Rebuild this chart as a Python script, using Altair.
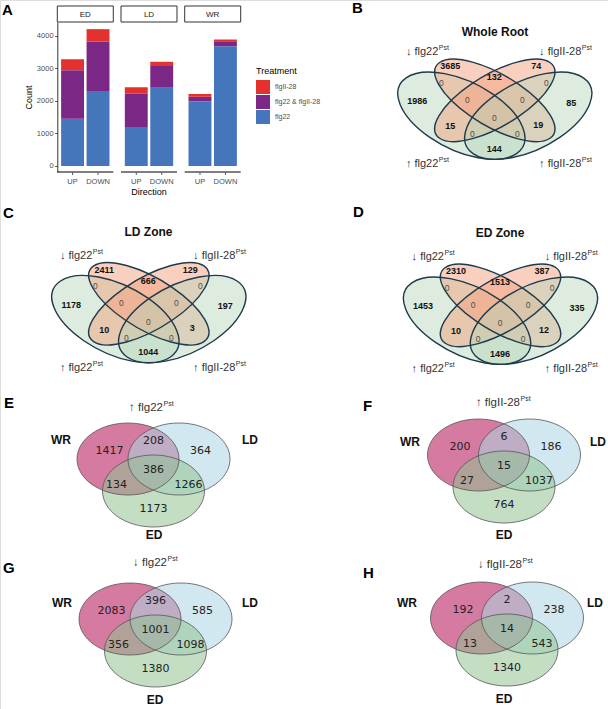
import math
import altair as alt
import pandas as pd

# ---------------- data: panel A (stacked bars) ----------------
zones = ["ED", "LD", "WR"]
directions = ["UP", "DOWN"]
bar_zone = ["ED", "ED", "LD", "LD", "WR", "WR"]
bar_direction = ["UP", "DOWN", "UP", "DOWN", "UP", "DOWN"]
count_flg22 = [1453, 2310, 1178, 2411, 1986, 3685]
count_both = [1496, 1513, 1044, 666, 144, 132]
count_flgII28 = [335, 387, 197, 129, 85, 74]
treatments = ["flgII-28", "flg22 & flgII-28", "flg22"]
treatment_colors = ["#E3312D", "#7B2786", "#4575BA"]
count_ticks = [0, 1000, 2000, 3000, 4000]

# ---------------- data: panels B-D (4-set Venn) ----------------
quad_titles = ["Whole Root", "LD Zone", "ED Zone"]
quad_sets = ["↑ flg22", "↓ flg22", "↓ flgII-28", "↑ flgII-28"]
whole_root = [3685, 132, 74, 0, 0, 1986, 0, 0, 85, 0, 15, 19, 0, 0, 144]
ld_zone = [2411, 666, 129, 0, 0, 1178, 0, 0, 197, 0, 10, 3, 0, 0, 1044]
ed_zone = [2310, 1513, 387, 0, 0, 1453, 0, 0, 335, 0, 10, 12, 0, 0, 1496]

# ---------------- data: panels E-H (3-set Venn) ----------------
tri_titles = ["↑ flg22", "↑ flgII-28", "↓ flg22", "↓ flgII-28"]
tri_sets = ["WR", "LD", "ED"]
up_flg22 = [1417, 208, 364, 386, 134, 1266, 1173]
up_flgII28 = [200, 6, 186, 15, 27, 1037, 764]
down_flg22 = [2083, 396, 585, 1001, 356, 1098, 1380]
down_flgII28 = [192, 2, 238, 14, 13, 543, 1340]

# ---------------- layout (positions / styles) ----------------
W, H = 608, 709
FONT = "Liberation Sans"
panel_letters = ["A", "B", "C", "D", "E", "F", "G", "H"]
letter_x = [2, 352, 3, 353, 4, 363, 3, 363]
letter_y = [15, 13, 218, 216.5, 408, 411, 573, 578]

# quad venn: centre of the middle "0" label of each panel
quad_c0x = [494.3, 148.3, 500.0]
quad_c0y = [118.3, 321.7, 323.3]
quad_title_x = [495, 148.5, 500]
quad_title_y = [32, 231.5, 233]
quad_num_dx = [-44, 0, 42, -53, 52, -77, -27, 28, 77, 0, -44, 44, -22, 23, 0]
quad_num_dy = [-52, -41, -52, -35.5, -35.5, -17, -18.5, -18.5, -15.5, 0, 8, 6.5, 16, 16, 30.5]
quad_set_dx = [-56, -56, 87, 87]
quad_set_dy = [46, -66, -66, 46]
# VennDiagram quad geometry (unit square), stretched to pixels
quad_cu = [0.35, 0.5, 0.5, 0.65]
quad_cv = [0.47, 0.57, 0.57, 0.47]
quad_a = [0.35, 0.35, 0.35, 0.35]
quad_b = [0.20, 0.15, 0.15, 0.20]
quad_slope = [-1, -1, 1, 1]
quad_fill = ["#b3d5b8", "#f3a27f", "#f3a27f", "#b3d5b8"]
quad_op = [0.45, 0.5, 0.5, 0.45]
QSX, QSY, QOFF = 223.0, 153.0, 7.2

# tri venn
tri_cx = [153.5, 504, 155.5, 507]
tri_cy = [459, 455, 619, 618]
tri_title_jx = [163, 520, 167, 522]
tri_title_y = [408, 403, 563, 565]
tri_label_x = [[61, 250, 154], [410, 598, 504], [62, 250, 155], [407, 595, 504]]
tri_label_y = [[440, 440, 535], [441.7, 441.7, 535], [602.7, 603, 700], [603, 603, 699]]
tri_num_dx = [-44, 0, 47, 0, -37, 35, 0]
tri_num_dy = [-8, -18.5, -8, 11, 26, 26, 49.5]
tri_set_dx = [-25.5, 25.5, 0]
tri_set_dy = [0, 0, 32]
tri_rx, tri_ry = 51, 36
tri_fill = ["#B30D52", "#ADD5E4", "#92C392"]

K = 0.5523
L = 100.0


def bezier_ellipse(P, Q):
    def pt(p, q):
        return ((p * P[0] + q * Q[0]) / L, (p * P[1] + q * Q[1]) / L)
    segs = [((1, K), (K, 1), (0, 1)), ((-K, 1), (-1, K), (-1, 0)),
            ((-1, -K), (-K, -1), (0, -1)), ((K, -1), (1, -K), (1, 0))]
    x0, y0 = pt(1, 0)
    s = f"M{x0:.4f},{y0:.4f}"
    for c1, c2, e in segs:
        a, b, c = pt(*c1), pt(*c2), pt(*e)
        s += f"C{a[0]:.4f},{a[1]:.4f} {b[0]:.4f},{b[1]:.4f} {c[0]:.4f},{c[1]:.4f}"
    return s + "Z"


XS = alt.Scale(domain=[0, W], range=[0, W], nice=False, zero=False)
YS = alt.Scale(domain=[0, H], range=[0, H], nice=False, zero=False)


def pos():
    return dict(x=alt.X("x:Q", scale=XS, axis=None), y=alt.Y("y:Q", scale=YS, axis=None))


def text_layer(rows, size, weight="normal", color="#000000", font=FONT, align="center",
               baseline="middle", dy=0):
    df = pd.DataFrame(rows, columns=["x", "y", "text"])
    return alt.Chart(df).mark_text(fontSize=size, fontWeight=weight, color=color, font=font,
                                   align=align, baseline=baseline, dy=dy).encode(
        text="text:N", **pos())


# ---------------- panel A ----------------
bar_rows = []
for i in range(6):
    for t, v, r in ((treatments[2], count_flg22[i], 0), (treatments[1], count_both[i], 1),
                    (treatments[0], count_flgII28[i], 2)):
        bar_rows.append({"zone": bar_zone[i], "direction": bar_direction[i],
                         "treatment": t, "count": v, "rank": r})
bar_df = pd.DataFrame(bar_rows)
dir_df = pd.DataFrame({"zone": bar_zone, "direction": bar_direction})
zone_df = pd.DataFrame({"zone": zones})

XB = alt.Scale(domain=zones, range=[57.3, 240.7], paddingInner=0.121, paddingOuter=0)
XOFF = alt.Scale(domain=directions, paddingInner=0.1, paddingOuter=0.15)
YB = alt.Scale(domain=[-185, 4430], range=[172, 22], nice=False, zero=False)
xz = alt.X("zone:N", sort=zones, scale=XB, axis=None)
xo = alt.XOffset("direction:N", sort=directions, scale=XOFF)

bars = alt.Chart(bar_df).mark_bar().encode(
    x=xz, xOffset=xo,
    y=alt.Y("count:Q", stack="zero", scale=YB,
            axis=alt.Axis(values=count_ticks, format="d", offset=-57.3, title="Count",
                          grid=False, titleFontSize=9, titleFontWeight="normal",
                          titleColor="#000000", titleFont=FONT, titlePadding=3,
                          labelFontSize=7.5, labelColor="#4d4d4d", labelFont=FONT,
                          labelPadding=1.5, tickColor="#333333", tickSize=2.75,
                          tickWidth=0.8, domainColor="#000000", domainWidth=0.8)),
    color=alt.Color("treatment:N", scale=alt.Scale(domain=treatments, range=treatment_colors),
                    legend=alt.Legend(orient="none", legendX=256, legendY=67, title="Treatment",
                                      titleFontSize=9, titleFontWeight="normal",
                                      titleColor="#000000", titleFont=FONT, titlePadding=4,
                                      labelFontSize=7, labelColor="#4d4d4d", labelFont=FONT,
                                      symbolType="square", symbolSize=196,
                                      symbolStrokeWidth=0, rowPadding=1, labelOffset=5,
                                      padding=0)),
    order=alt.Order("rank:Q"))

strips = alt.Chart(zone_df).mark_rect(fill="white", stroke="#333333", strokeWidth=1).encode(
    x=xz, y=alt.value(6), y2=alt.value(22))
strip_text = alt.Chart(zone_df).mark_text(fontSize=8, color="#1a1a1a", font=FONT,
                                          baseline="middle").encode(
    x=xz, y=alt.value(14.5), text="zone:N")
xlines = alt.Chart(zone_df).mark_rect(fill="#000000").encode(
    x=xz, y=alt.value(171.6), y2=alt.value(172.4))
xticks = alt.Chart(dir_df).mark_rule(color="#333333", strokeWidth=0.8).encode(
    x=xz, xOffset=xo, y=alt.value(172.4), y2=alt.value(175))
xlabels = alt.Chart(dir_df).mark_text(fontSize=7.5, color="#4d4d4d", font=FONT,
                                      baseline="middle").encode(
    x=xz, xOffset=xo, y=alt.value(181.5), text="direction:N")
xtitle = alt.Chart(pd.DataFrame({"t": ["Direction"]})).mark_text(
    fontSize=9, color="#000000", font=FONT, baseline="middle").encode(
    x=alt.value(149), y=alt.value(192), text="t:N")

panel_a = alt.layer(strips, strip_text, bars, xlines, xticks, xlabels, xtitle)

# ---------------- Venn layers ----------------
ell_fill_rows, ell_line_rows = [], []
num_bold, num_zero, titles_bold = [], [], []
quad_main, quad_sup, tri_main, tri_sup = [], [], [], []

# quad venns
for p, vals in enumerate([whole_root, ld_zone, ed_zone]):
    cx0 = quad_c0x[p] + 0.5
    cy0 = quad_c0y[p] - QOFF
    for j in range(4):
        s = quad_slope[j]
        r2 = math.sqrt(2)
        dp = (QSX / r2, -QSY * s / r2)
        npv = (-QSX * s / r2, -QSY / r2)
        P = (quad_a[j] * dp[0], quad_a[j] * dp[1])
        Q = (quad_b[j] * npv[0], quad_b[j] * npv[1])
        path = bezier_ellipse(P, Q)
        ex = cx0 + (quad_cu[j] - 0.5) * QSX
        ey = cy0 - (quad_cv[j] - 0.5) * QSY
        ell_fill_rows.append({"x": ex, "y": ey, "path": path, "fill": quad_fill[j],
                              "op": quad_op[j]})
        ell_line_rows.append({"x": ex, "y": ey, "path": path, "col": "#1e3a4c", "w": 1.4})
    for k, v in enumerate(vals):
        row = (quad_c0x[p] + quad_num_dx[k], quad_c0y[p] + quad_num_dy[k], str(v))
        (num_bold if v != 0 else num_zero).append(row)
    for j in range(4):
        jx = quad_c0x[p] + quad_set_dx[j]
        jy = quad_c0y[p] + quad_set_dy[j]
        quad_main.append((jx, jy, quad_sets[j]))
        quad_sup.append((jx + 0.5, jy, "Pst"))
    titles_bold.append((quad_title_x[p], quad_title_y[p], quad_titles[p]))

# tri venns
tri_nums, tri_labels = [], []
for p, vals in enumerate([up_flg22, up_flgII28, down_flg22, down_flgII28]):
    for j in range(3):
        path = bezier_ellipse((tri_rx, 0), (0, tri_ry))
        ex = tri_cx[p] + tri_set_dx[j]
        ey = tri_cy[p] + tri_set_dy[j]
        ell_fill_rows.append({"x": ex, "y": ey, "path": path, "fill": tri_fill[j], "op": 0.55})
        ell_line_rows.append({"x": ex, "y": ey, "path": path, "col": "#555555", "w": 0.8})
        tri_labels.append((tri_label_x[p][j], tri_label_y[p][j], tri_sets[j]))
    for k, v in enumerate(vals):
        tri_nums.append((tri_cx[p] + tri_num_dx[k], tri_cy[p] + tri_num_dy[k], str(v)))
    tri_main.append((tri_title_jx[p], tri_title_y[p], tri_titles[p]))
    tri_sup.append((tri_title_jx[p] + 0.5, tri_title_y[p], "Pst"))

fill_df = pd.DataFrame(ell_fill_rows)
line_df = pd.DataFrame(ell_line_rows)

ell_fill = alt.Chart(fill_df).mark_point(filled=True, opacity=1, strokeWidth=0).encode(
    shape=alt.Shape("path:N", scale=None), size=alt.value(4 * L * L),
    fill=alt.Fill("fill:N", scale=None), fillOpacity=alt.FillOpacity("op:Q", scale=None),
    **pos())
ell_line = alt.Chart(line_df).mark_point(filled=False, opacity=1, fillOpacity=0).encode(
    shape=alt.Shape("path:N", scale=None), size=alt.value(4 * L * L),
    stroke=alt.Stroke("col:N", scale=None), strokeWidth=alt.StrokeWidth("w:Q", scale=None),
    **pos())

letters = text_layer(list(zip(letter_x, letter_y, panel_letters)), 15, "bold",
                     align="left", baseline="alphabetic")
venn_layers = [
    ell_fill, ell_line,
    text_layer(num_bold, 9, "bold", "#111111"),
    text_layer(num_zero, 8.5, "normal", "#4d4d4d"),
    text_layer(tri_nums, 11, "normal", "#222222", font="DejaVu Sans"),
    text_layer(tri_labels, 12, "bold", "#111111"),
    text_layer(titles_bold, 12, "bold", "#111111"),
    text_layer(quad_main, 11, "normal", "#333333", align="right"),
    text_layer(quad_sup, 7, "normal", "#333333", align="left", dy=-4),
    text_layer(tri_main, 11.5, "normal", "#333333", align="right"),
    text_layer(tri_sup, 7, "normal", "#333333", align="left", dy=-4),
    letters,
]
venn = alt.layer(*venn_layers)

chart = alt.layer(panel_a, venn).resolve_scale(
    x="independent", y="independent", color="independent"
).properties(
    width=W, height=H, autosize=alt.AutoSizeParams(type="none"), padding=0
).configure_view(stroke=None).configure(background="white")

chart.save("out.html", embed_options={"renderer": "svg", "actions": False})
